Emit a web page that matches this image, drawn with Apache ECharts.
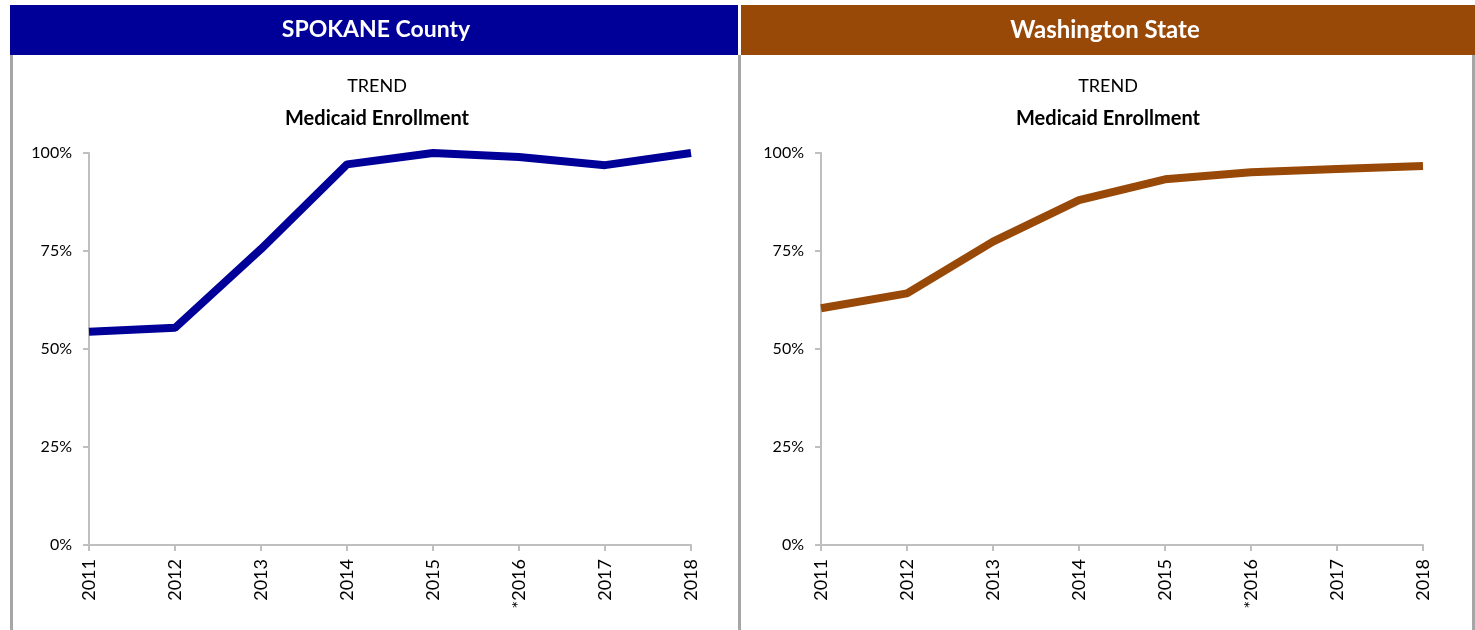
<!DOCTYPE html>
<html lang="en">
<head>
    <meta charset="utf-8">
    <title>Medicaid Enrollment trend</title>
    <script src="https://cdn.jsdelivr.net/npm/echarts@6/dist/echarts.min.js"></script>
    <style>
        html, body { margin: 0; padding: 0; background: #fff; }
        #chart { width: 1475px; height: 630px; }
    </style>
</head>
<body>
<div id="chart"></div>
<script type="text/javascript">
    // data
    var years = ['2011', '2012', '2013', '2014', '2015', '*2016', '2017', '2018'];
    var spokane = [0.544, 0.554, 0.755, 0.971, 1.0, 0.99, 0.969, 1.0];
    var washington = [0.604, 0.642, 0.774, 0.880, 0.933, 0.951, 0.959, 0.967];
    var yTicks = [0, 0.25, 0.5, 0.75, 1];

    var blue = '#000099';
    var brown = '#984807';
    var frame = '#a6a6a6';
    var axisGray = '#bfbfbf';

    var chart = echarts.init(document.getElementById('chart'));

    function xAxis(idx) {
        return {
            type: 'category', gridIndex: idx, data: years, boundaryGap: false,
            axisLine: { lineStyle: { color: axisGray, width: 2 } },
            axisTick: { length: 6, lineStyle: { color: axisGray, width: 2 } },
            axisLabel: { rotate: 90, margin: 14, color: '#000', fontFamily: 'Lato', fontSize: 18 }
        };
    }
    function yAxis(idx) {
        return {
            type: 'value', gridIndex: idx, min: yTicks[0], max: yTicks[yTicks.length - 1], interval: 0.25,
            axisLine: { show: true, lineStyle: { color: axisGray, width: 2 } },
            axisTick: { show: true, length: 6, lineStyle: { color: axisGray, width: 2 } },
            splitLine: { show: false },
            axisLabel: {
                margin: 17, color: '#000', fontFamily: 'Lato', fontSize: 16,
                formatter: function (v) { return Math.round(v * 100) + '%'; }
            }
        };
    }
    function series(idx, data, color) {
        return {
            type: 'line', xAxisIndex: idx, yAxisIndex: idx, data: data,
            symbol: 'none', lineStyle: { color: color, width: 8, cap: 'butt' }, animation: false
        };
    }

    chart.setOption({
        animation: false,
        title: [
            { text: 'TREND', left: 372, top: 72, textAlign: 'center',
              textStyle: { fontFamily: 'Lato', fontWeight: 'normal', fontSize: 18, color: '#000' } },
            { text: 'Medicaid Enrollment', left: 372, top: 104, textAlign: 'center',
              textStyle: { fontFamily: 'Lato', fontWeight: 'bold', fontSize: 20, color: '#000' } },
            { text: 'TREND', left: 1103, top: 72, textAlign: 'center',
              textStyle: { fontFamily: 'Lato', fontWeight: 'normal', fontSize: 18, color: '#000' } },
            { text: 'Medicaid Enrollment', left: 1103, top: 104, textAlign: 'center',
              textStyle: { fontFamily: 'Lato', fontWeight: 'bold', fontSize: 20, color: '#000' } }
        ],
        grid: [
            { left: 89, right: 784, top: 153, bottom: 85 },
            { left: 821, right: 52, top: 153, bottom: 85 }
        ],
        xAxis: [xAxis(0), xAxis(1)],
        yAxis: [yAxis(0), yAxis(1)],
        series: [series(0, spokane, blue), series(1, washington, brown)],
        graphic: [
            // panel headers
            { type: 'rect', shape: { x: 10, y: 5, width: 728, height: 50 }, style: { fill: blue } },
            { type: 'rect', shape: { x: 741, y: 5, width: 734, height: 50 }, style: { fill: brown } },
            { type: 'text', x: 376, y: 30, style: { text: 'SPOKANE County', fill: '#fff', font: 'bold 23px Lato', align: 'center', verticalAlign: 'middle' } },
            { type: 'text', x: 1105, y: 30, style: { text: 'Washington State', fill: '#fff', font: 'bold 24px Lato', align: 'center', verticalAlign: 'middle' } },
            // panel borders
            { type: 'rect', shape: { x: 10, y: 55, width: 3, height: 575 }, style: { fill: frame } },
            { type: 'rect', shape: { x: 738, y: 55, width: 3, height: 575 }, style: { fill: frame } },
            { type: 'rect', shape: { x: 1472, y: 55, width: 3, height: 575 }, style: { fill: frame } }
        ]
    });
</script>
</body>
</html>
